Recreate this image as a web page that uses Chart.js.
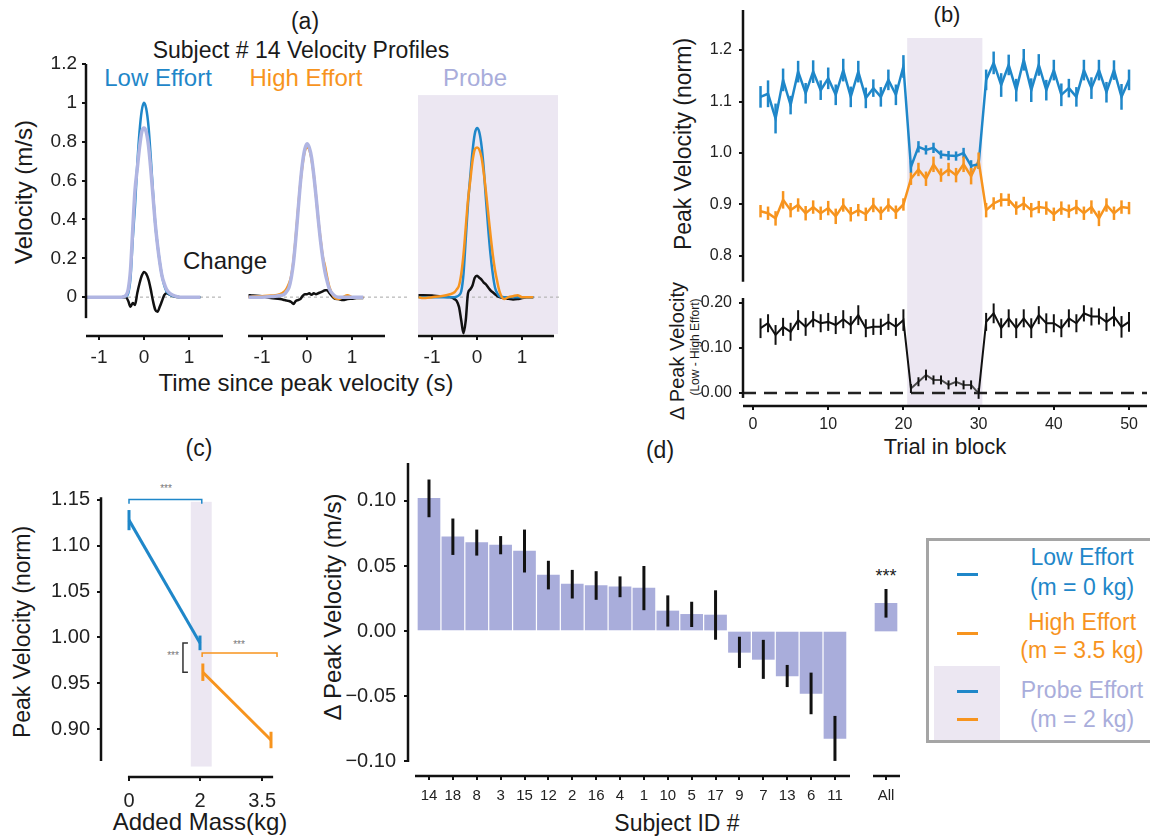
<!DOCTYPE html>
<html>
<head>
<meta charset="utf-8">
<title>Peak velocity figure</title>
<script src="https://cdn.jsdelivr.net/npm/chart.js"></script>
<style>
  body { margin: 0; background: #fff; }
  #fig { position: relative; width: 1150px; height: 838px; overflow: hidden; font-family: "Liberation Sans", Arial, sans-serif; color: #1a1a1a; }
  .t { position: absolute; white-space: nowrap; line-height: 1; transform: translate(-50%, -50%); }
  .r { transform: translate(-50%, -50%) rotate(-90deg); }
  canvas { position: absolute; }
  .box { position: absolute; box-sizing: border-box; }
</style>
</head>
<body>
<div id="fig">
  <!-- (a) -->
  <div class="t" style="left:305px;top:21px;font-size:23px">(a)</div>
  <div class="t" style="left:301px;top:50px;font-size:23px">Subject # 14 Velocity Profiles</div>
  <div class="t" style="left:158px;top:78px;font-size:24px;color:#1f87c9">Low Effort</div>
  <div class="t" style="left:306px;top:78px;font-size:24px;color:#f7941e">High Effort</div>
  <div class="t" style="left:475px;top:78px;font-size:24px;color:#a9addb">Probe</div>
  <div class="t" style="left:225px;top:261px;font-size:24px">Change</div>
  <div class="t r" style="left:24px;top:192px;font-size:24px">Velocity (m/s)</div>
  <div class="t" style="left:306px;top:383px;font-size:24px">Time since peak velocity (s)</div>

  <!-- (b) -->
  <div class="t" style="left:947px;top:15px;font-size:22px">(b)</div>
  <div class="t r" style="left:683px;top:144px;font-size:23px">Peak Velocity (norm)</div>
  <div class="t r" style="left:677px;top:351px;font-size:20px">Δ Peak Velocity</div>
  <div class="t r" style="left:695px;top:347px;font-size:12px">(Low - High Effort)</div>
  <div class="t" style="left:945px;top:447px;font-size:22px">Trial in block</div>

  <!-- (c) -->
  <div class="t" style="left:199px;top:448px;font-size:23px">(c)</div>
  <div class="t r" style="left:22px;top:632px;font-size:23px">Peak Velocity (norm)</div>
  <div class="t" style="left:200px;top:822px;font-size:24px">Added Mass(kg)</div>
  <div class="t" style="left:166px;top:489px;font-size:10px;color:#777">***</div>
  <div class="t" style="left:239px;top:645px;font-size:10px;color:#777">***</div>
  <div class="t" style="left:173px;top:656px;font-size:10px;color:#777">***</div>

  <!-- (d) -->
  <div class="t" style="left:660px;top:450px;font-size:23px">(d)</div>
  <div class="t r" style="left:333px;top:607px;font-size:24px">Δ Peak Velocity (m/s)</div>
  <div class="t" style="left:677px;top:823px;font-size:23px">Subject ID #</div>
  <div class="t" style="left:886px;top:576px;font-size:18px">***</div>

  <!-- legend -->
  <div class="box" style="left:926px;top:538px;width:240px;height:205px;border:3px solid #a5a5a5"></div>
  <div class="box" style="left:934px;top:666px;width:66px;height:74px;background:#ece7f2"></div>
  <div class="box" style="left:957px;top:573px;width:21px;height:3px;background:#1f87c9"></div>
  <div class="box" style="left:957px;top:632px;width:21px;height:3px;background:#f7941e"></div>
  <div class="box" style="left:957px;top:690px;width:21px;height:3px;background:#1f87c9"></div>
  <div class="box" style="left:957px;top:718px;width:21px;height:3px;background:#f7941e"></div>
  <div class="t" style="left:1082px;top:557px;font-size:23px;color:#1f87c9">Low Effort</div>
  <div class="t" style="left:1082px;top:587px;font-size:23px;color:#1f87c9">(m = 0 kg)</div>
  <div class="t" style="left:1082px;top:622px;font-size:23px;color:#f7941e">High Effort</div>
  <div class="t" style="left:1082px;top:650px;font-size:23px;color:#f7941e">(m = 3.5 kg)</div>
  <div class="t" style="left:1082px;top:690px;font-size:23px;color:#a9addb">Probe Effort</div>
  <div class="t" style="left:1082px;top:719px;font-size:23px;color:#a9addb">(m = 2 kg)</div>
</div>
<script>
const BLUE = "#1f87c9";
const ORANGE = "#f7941e";
const LAV = "#a9addb";
const LAV_LINE = "#b0b5e2";
const SHADE = "#ece7f2";
const INK = "#111";
const FONT = "'Liberation Sans', Arial, sans-serif";

// (a) velocity profiles of subject 14
const profileTime = [-1.3, -1.2, -1.0, -0.8, -0.6, -0.5, -0.45, -0.4, -0.35, -0.3, -0.25, -0.2, -0.15, -0.1, -0.05, 0,
  0.05, 0.1, 0.15, 0.2, 0.25, 0.3, 0.35, 0.4, 0.45, 0.5, 0.6, 0.7, 0.8, 0.9, 1.0, 1.1, 1.25];
const lowEffort = [0, 0, 0, 0, 0, 0, 0.002, 0.005, 0.02, 0.1, 0.3, 0.47, 0.68, 0.85, 0.96, 1.0,
  0.97, 0.88, 0.72, 0.54, 0.38, 0.27, 0.18, 0.11, 0.06, 0.03, 0.01, 0.003, 0, 0, 0, 0, 0];
const lowProbe = [0, 0, 0, 0, 0, 0, 0.003, 0.01, 0.04, 0.14, 0.35, 0.55, 0.66, 0.77, 0.85, 0.87,
  0.85, 0.78, 0.66, 0.52, 0.38, 0.27, 0.18, 0.11, 0.07, 0.04, 0.015, 0.005, 0, 0, 0, 0, 0];
const lowChange = [0, 0, 0, 0, 0, 0, 0, 0, -0.02, -0.05, -0.03, -0.04, 0.02, 0.07, 0.11, 0.13,
  0.12, 0.09, 0.04, -0.02, -0.065, -0.075, -0.05, -0.02, 0.01, 0.02, 0.01, 0.002, 0, -0.003, 0, 0, 0];
const highEffort = [0, 0.003, 0.005, 0.008, 0.015, 0.03, 0.045, 0.07, 0.11, 0.19, 0.31, 0.45, 0.58, 0.68, 0.75, 0.77,
  0.76, 0.71, 0.63, 0.52, 0.4, 0.3, 0.21, 0.16, 0.1, 0.05, 0.0, -0.01, 0.0, 0.01, 0, 0, 0];
const highProbe = [0, 0, 0, 0.003, 0.008, 0.015, 0.03, 0.05, 0.1, 0.18, 0.3, 0.44, 0.58, 0.69, 0.76, 0.79,
  0.77, 0.72, 0.63, 0.52, 0.4, 0.29, 0.2, 0.13, 0.08, 0.04, 0.01, 0, 0, 0, 0, 0, 0];
const highChange = [0.01, 0.008, 0.005, -0.005, -0.01, -0.015, -0.018, -0.02, -0.025, -0.035, -0.02, -0.015, -0.01, 0.005, 0.015, 0.015,
  0.02, 0.012, 0.02, 0.015, 0.02, 0.025, 0.03, 0.035, 0.035, 0.02, -0.005, -0.01, -0.015, -0.01, -0.008, -0.005, -0.005];
const probeLow = [0, 0, 0, 0, 0, 0, 0.003, 0.01, 0.03, 0.12, 0.3, 0.48, 0.62, 0.75, 0.84, 0.87,
  0.85, 0.78, 0.66, 0.5, 0.35, 0.22, 0.12, 0.05, 0.02, 0.005, 0, 0, 0, 0, 0, 0, 0];
const probeHigh = [0, -0.005, 0, 0.005, 0.015, 0.025, 0.04, 0.06, 0.12, 0.22, 0.36, 0.5, 0.6, 0.7, 0.76, 0.77,
  0.76, 0.72, 0.64, 0.54, 0.43, 0.32, 0.22, 0.14, 0.08, 0.03, -0.01, 0, 0.005, 0.01, 0, 0, 0];
const probeChange = [0.01, 0.01, 0.008, 0.003, 0, -0.01, -0.02, -0.05, -0.12, -0.186, -0.12, 0.02, 0.04, 0.06, 0.1, 0.11,
  0.1, 0.09, 0.075, 0.065, 0.05, 0.035, 0.025, 0.015, 0.005, 0, -0.005, -0.008, -0.012, -0.01, -0.005, 0, 0];
const velocityTicks = [0, 0.2, 0.4, 0.6, 0.8, 1, 1.2];
const timeTicks = [-1, 0, 1];

// (b) peak velocity per trial
const trials = Array.from({ length: 50 }, (_, i) => i + 1);
const lowTrial = [1.109, 1.115, 1.067, 1.142, 1.093, 1.158, 1.116, 1.158, 1.122, 1.145,
  1.113, 1.161, 1.109, 1.158, 1.107, 1.126, 1.109, 1.142, 1.113, 1.168,
  0.973, 1.012, 1.006, 1.010, 0.997, 0.995, 0.994, 1.000, 0.975, 0.978,
  1.142, 1.175, 1.132, 1.171, 1.122, 1.181, 1.122, 1.171, 1.122, 1.161,
  1.113, 1.126, 1.109, 1.161, 1.126, 1.161, 1.118, 1.161, 1.109, 1.142];
const lowTrialErr = [0.021, 0.026, 0.029, 0.022, 0.018, 0.021, 0.02, 0.022, 0.019, 0.021,
  0.02, 0.022, 0.02, 0.021, 0.02, 0.017, 0.019, 0.02, 0.02, 0.022,
  0.012, 0.011, 0.009, 0.01, 0.008, 0.009, 0.009, 0.01, 0.011, 0.009,
  0.02, 0.022, 0.023, 0.02, 0.022, 0.021, 0.023, 0.021, 0.02, 0.02,
  0.022, 0.018, 0.019, 0.02, 0.021, 0.02, 0.02, 0.019, 0.025, 0.02];
const highTrial = [0.887, 0.883, 0.873, 0.909, 0.889, 0.899, 0.883, 0.895, 0.883, 0.893,
  0.877, 0.899, 0.881, 0.889, 0.881, 0.899, 0.883, 0.899, 0.885, 0.900,
  0.950, 0.968, 0.950, 0.978, 0.957, 0.968, 0.957, 0.978, 0.955, 0.985,
  0.889, 0.902, 0.909, 0.909, 0.893, 0.902, 0.889, 0.895, 0.893, 0.881,
  0.893, 0.887, 0.895, 0.883, 0.895, 0.873, 0.899, 0.883, 0.895, 0.893];
const highTrialErr = [0.012, 0.013, 0.014, 0.017, 0.014, 0.013, 0.014, 0.013, 0.013, 0.014,
  0.015, 0.013, 0.014, 0.012, 0.013, 0.014, 0.013, 0.013, 0.013, 0.012,
  0.012, 0.013, 0.014, 0.015, 0.013, 0.013, 0.014, 0.015, 0.016, 0.016,
  0.014, 0.012, 0.013, 0.012, 0.013, 0.013, 0.014, 0.012, 0.013, 0.013,
  0.013, 0.013, 0.014, 0.013, 0.013, 0.015, 0.013, 0.013, 0.013, 0.012];
const diffTrial = [0.144, 0.155, 0.129, 0.147, 0.136, 0.162, 0.147, 0.164, 0.155, 0.158,
  0.151, 0.164, 0.151, 0.173, 0.144, 0.147, 0.147, 0.158, 0.147, 0.162,
  0.010, 0.025, 0.040, 0.029, 0.029, 0.018, 0.025, 0.018, 0.018, -0.001,
  0.158, 0.177, 0.144, 0.166, 0.144, 0.166, 0.144, 0.173, 0.155, 0.155,
  0.144, 0.166, 0.155, 0.177, 0.170, 0.170, 0.158, 0.170, 0.147, 0.158];
const diffTrialErr = [0.022, 0.02, 0.022, 0.02, 0.02, 0.022, 0.02, 0.018, 0.02, 0.02,
  0.02, 0.02, 0.02, 0.022, 0.02, 0.018, 0.018, 0.018, 0.02, 0.024,
  0.01, 0.01, 0.012, 0.01, 0.01, 0.01, 0.01, 0.01, 0.01, 0.012,
  0.02, 0.022, 0.022, 0.02, 0.022, 0.02, 0.022, 0.02, 0.022, 0.02,
  0.02, 0.02, 0.02, 0.018, 0.02, 0.018, 0.02, 0.022, 0.024, 0.022];
const trialTicks = [0, 10, 20, 30, 40, 50];
const peakTicks = [0.8, 0.9, 1.0, 1.1, 1.2];
const diffTicks = [0, 0.1, 0.2];

// (c) peak velocity vs added mass
const massLow = [0, 2];
const massLowPeak = [1.128, 0.994];
const massLowErr = [0.011, 0.008];
const massHigh = [2.08, 4];
const massHighPeak = [0.962, 0.888];
const massHighErr = [0.0095, 0.009];
const massTicks = [0, 2, 3.75];
const massTickLabels = ["0", "2", "3.5"];
const normTicks = [0.9, 0.95, 1.0, 1.05, 1.1, 1.15];

// (d) per-subject change in peak velocity
const subjectIds = ["14", "18", "8", "3", "15", "12", "2", "16", "4", "1", "10", "5", "17", "9", "7", "13", "6", "11"];
const subjectDelta = [0.102, 0.0725, 0.068, 0.066, 0.0615, 0.043, 0.036, 0.035, 0.034, 0.033,
  0.0154, 0.0128, 0.0123, -0.0164, -0.0218, -0.0346, -0.048, -0.0826];
const subjectErr = [0.0145, 0.014, 0.01, 0.007, 0.0165, 0.011, 0.011, 0.011, 0.008, 0.017,
  0.012, 0.0097, 0.019, 0.012, 0.015, 0.0085, 0.016, 0.0173];
const allLabel = ["All"];
const allDelta = [0.0213];
const allErr = [0.011];
const deltaTicks = [-0.1, -0.05, 0, 0.05, 0.1];

const fig = document.getElementById("fig");
const extras = {};

function xy(xs, ys) {
  return xs.map((x, i) => ({ x, y: ys[i] }));
}

const figPlugin = {
  id: "figExtras",
  beforeDatasetsDraw(chart) {
    const ex = extras[chart.canvas.id];
    if (!ex) return;
    const { ctx, chartArea: a } = chart;
    const x = chart.scales.x, y = chart.scales.y;
    ctx.save();
    (ex.shade || []).forEach((s) => {
      const x0 = s.x ? x.getPixelForValue(s.x[0]) : a.left;
      const x1 = s.x ? x.getPixelForValue(s.x[1]) : a.right;
      const y0 = s.y ? y.getPixelForValue(s.y[1]) : a.top;
      const y1 = s.y ? y.getPixelForValue(s.y[0]) : a.bottom;
      ctx.fillStyle = SHADE;
      ctx.fillRect(x0, y0, x1 - x0, y1 - y0);
    });
    if (ex.zero) {
      const py = y.getPixelForValue(0);
      ctx.strokeStyle = ex.zero.color;
      ctx.lineWidth = ex.zero.width;
      ctx.setLineDash(ex.zero.dash);
      ctx.beginPath();
      ctx.moveTo(a.left, py);
      ctx.lineTo(a.right, py);
      ctx.stroke();
    }
    ctx.restore();
  },
  afterDatasetsDraw(chart) {
    const { ctx } = chart;
    chart.data.datasets.forEach((ds, i) => {
      if (!ds.errors) return;
      const meta = chart.getDatasetMeta(i);
      const ys = chart.scales[meta.yAxisID];
      ctx.save();
      ctx.strokeStyle = ds.errorColor;
      ctx.lineWidth = ds.errorWidth;
      meta.data.forEach((el, j) => {
        const v = ds.data[j].y, e = ds.errors[j];
        ctx.beginPath();
        ctx.moveTo(el.x, ys.getPixelForValue(v + e));
        ctx.lineTo(el.x, ys.getPixelForValue(v - e));
        ctx.stroke();
      });
      ctx.restore();
    });
  },
  afterDraw(chart) {
    const ex = extras[chart.canvas.id];
    if (!ex) return;
    const { ctx, chartArea: a } = chart;
    const x = chart.scales.x, y = chart.scales.y;
    ctx.save();
    ctx.strokeStyle = INK;
    ctx.lineWidth = 2.5;
    if (ex.spineY) {
      ctx.beginPath();
      ctx.moveTo(a.left, y.getPixelForValue(ex.spineY[1]));
      ctx.lineTo(a.left, y.getPixelForValue(ex.spineY[0]));
      ctx.stroke();
    }
    if (ex.spineX) {
      ctx.beginPath();
      ctx.moveTo(x.getPixelForValue(ex.spineX[0]), a.bottom);
      ctx.lineTo(x.getPixelForValue(ex.spineX[1]), a.bottom);
      ctx.stroke();
    }
    ctx.lineWidth = 1.5;
    (ex.brackets || []).forEach((b) => {
      const x0 = x.getPixelForValue(b.x[0]), x1 = x.getPixelForValue(b.x[1]);
      const py = y.getPixelForValue(b.y), pd = y.getPixelForValue(b.y - b.drop);
      ctx.strokeStyle = b.color;
      ctx.beginPath();
      ctx.moveTo(x0, pd);
      ctx.lineTo(x0, py);
      ctx.lineTo(x1, py);
      ctx.lineTo(x1, pd);
      ctx.stroke();
    });
    if (ex.vbracket) {
      const b = ex.vbracket;
      const px = x.getPixelForValue(b.x[0]), pt = x.getPixelForValue(b.x[1]);
      ctx.strokeStyle = b.color;
      ctx.beginPath();
      ctx.moveTo(pt, y.getPixelForValue(b.y[1]));
      ctx.lineTo(px, y.getPixelForValue(b.y[1]));
      ctx.lineTo(px, y.getPixelForValue(b.y[0]));
      ctx.lineTo(pt, y.getPixelForValue(b.y[0]));
      ctx.stroke();
    }
    ctx.restore();
  },
};
Chart.register(figPlugin);
Chart.defaults.font.family = FONT;
Chart.defaults.color = "#222";

function axis(min, max, ticks, opts) {
  return {
    type: "linear",
    min,
    max,
    display: opts.display !== false,
    offset: false,
    afterBuildTicks: (s) => { s.ticks = ticks.map((v) => ({ value: v })); },
    ticks: {
      font: { size: opts.size || 18 },
      padding: opts.pad || 5,
      autoSkip: false,
      maxRotation: 0,
      callback: opts.fmt || ((v) => String(v)),
    },
    grid: { offset: false, drawOnChartArea: false, drawTicks: true, tickLength: 4, color: INK, lineWidth: 2 },
    border: { display: false },
  };
}

// area = [left, top, right, bottom] of the plot area, pad = [left, top, right, bottom]
function makeChart(id, area, pad, type, datasets, xScale, yScale, extra) {
  const cv = document.createElement("canvas");
  cv.id = id;
  const w = area[2] - area[0] + pad[0] + pad[2];
  const h = area[3] - area[1] + pad[1] + pad[3];
  cv.width = w;
  cv.height = h;
  cv.style.left = area[0] - pad[0] + "px";
  cv.style.top = area[1] - pad[1] + "px";
  cv.style.width = w + "px";
  cv.style.height = h + "px";
  fig.appendChild(cv);
  extras[id] = extra;
  // fixed axis sizes so the plot area lands exactly on `area`
  if (xScale.display) xScale.afterFit = (s) => { s.height = pad[3]; s.paddingLeft = 0; s.paddingRight = 0; };
  if (yScale.display) yScale.afterFit = (s) => { s.width = pad[0]; s.paddingTop = 0; s.paddingBottom = 0; };
  return new Chart(cv, {
    type,
    data: { datasets },
    options: {
      responsive: false,
      animation: false,
      devicePixelRatio: 1,
      layout: { padding: { left: yScale.display ? 0 : pad[0], top: pad[1], right: pad[2], bottom: xScale.display ? 0 : pad[3] } },
      plugins: { legend: { display: false }, tooltip: { enabled: false } },
      scales: { x: xScale, y: yScale },
    },
  });
}

function curve(ys, color, width) {
  return {
    data: xy(profileTime, ys),
    borderColor: color,
    borderWidth: width,
    pointRadius: 0,
    cubicInterpolationMode: "monotone",
    fill: false,
  };
}

// ---- (a) three subplots ----
const zeroLine = { color: "#b5b5b5", width: 1.2, dash: [3, 3] };
makeChart("a1", [86, 64, 223, 336], [50, 14, 4, 34], "line",
  [curve(lowProbe, LAV_LINE, 3.5), curve(lowEffort, BLUE, 2.5), curve(lowChange, INK, 2.5)],
  axis(-1.289, 1.756, timeTicks, { size: 19, pad: 6 }),
  axis(-0.2, 1.2, velocityTicks, { size: 19, pad: 5 }),
  { zero: zeroLine, spineY: [-0.108, 1.2], spineX: [-1.289, 1.756] });

makeChart("a2", [248, 64, 408, 336], [0, 14, 4, 34], "line",
  [curve(highProbe, LAV_LINE, 3.5), curve(highEffort, ORANGE, 2.5), curve(highChange, INK, 2.5)],
  axis(-1.311, 2.244, timeTicks, { size: 19, pad: 6 }),
  axis(-0.2, 1.2, velocityTicks, { display: false }),
  { zero: zeroLine, spineX: [-1.311, 1.733] });

makeChart("a3", [418, 64, 560, 336], [0, 14, 4, 34], "line",
  [curve(probeHigh, ORANGE, 2.5), curve(probeLow, BLUE, 2.5), curve(probeChange, INK, 2.5)],
  axis(-1.311, 1.844, timeTicks, { size: 19, pad: 6 }),
  axis(-0.2, 1.2, velocityTicks, { display: false }),
  { shade: [{ x: [-1.311, 1.8], y: [-0.19, 1.04] }], zero: zeroLine, spineX: [-1.311, 1.711] });

// ---- (b) trial series ----
function trialLine(ys, errs, color, width) {
  return {
    data: xy(trials, ys),
    borderColor: color,
    borderWidth: width,
    pointRadius: 0,
    tension: 0,
    fill: false,
    errors: errs,
    errorColor: color,
    errorWidth: width,
  };
}
const probeTrials = [21, 30];

makeChart("bTop", [743, 10, 1147, 298], [50, 10, 3, 0], "line",
  [trialLine(lowTrial, lowTrialErr, BLUE, 2.5), trialLine(highTrial, highTrialErr, ORANGE, 2.5)],
  axis(-1.33, 52.39, trialTicks, { display: false }),
  axis(0.7184, 1.2777, peakTicks, { size: 16, pad: 7, fmt: (v) => v.toFixed(1) }),
  { shade: [{ x: [probeTrials[0] - 0.5, probeTrials[1] + 0.5], y: [0.7184, 1.2233] }], spineY: [0.75, 1.2777] });

const diffLine = trialLine(diffTrial, diffTrialErr, INK, 2);
diffLine.segment = {
  borderColor: (c) => (trials[c.p0DataIndex] >= probeTrials[0] && trials[c.p1DataIndex] <= probeTrials[1] ? "#4a4a4a" : INK),
};
makeChart("bBot", [743, 298, 1147, 406], [50, 10, 3, 30], "line",
  [diffLine],
  axis(-1.33, 52.39, trialTicks, { size: 16, pad: 5 }),
  axis(-0.0289, 0.2111, diffTicks, { size: 16, pad: 7, fmt: (v) => v.toFixed(2) }),
  {
    shade: [{ x: [probeTrials[0] - 0.5, probeTrials[1] + 0.5] }],
    zero: { color: "#222", width: 2.5, dash: [13, 8] },
    spineY: [-0.011, 0.2111],
    spineX: [-1.33, 52.39],
  });

// ---- (c) added mass ----
function massLine(xs, ys, errs, color) {
  return {
    data: xy(xs, ys),
    borderColor: color,
    borderWidth: 3,
    pointRadius: 0,
    tension: 0,
    fill: false,
    errors: errs,
    errorColor: color,
    errorWidth: 3,
  };
}
makeChart("c", [101, 480, 282, 777], [55, 10, 6, 36], "line",
  [massLine(massLow, massLowPeak, massLowErr, BLUE), massLine(massHigh, massHighPeak, massHighErr, ORANGE)],
  axis(-0.789, 4.31, massTicks, { size: 20, pad: 8, fmt: (v, i) => massTickLabels[i] }),
  axis(0.8476, 1.1718, normTicks, { size: 20, pad: 7, fmt: (v) => v.toFixed(2) }),
  {
    shade: [{ x: [1.74, 2.33], y: [0.859, 1.148] }],
    spineY: [0.865, 1.153],
    spineX: [-0.03, 4.06],
    brackets: [
      { x: [0, 2.05], y: 1.1505, drop: 0.0045, color: BLUE },
      { x: [2.06, 4.17], y: 0.983, drop: 0.0045, color: ORANGE },
    ],
    vbracket: { x: [1.52, 1.66], y: [0.962, 0.994], color: "#333" },
  });

// ---- (d) per subject ----
const minus = (v) => v.toFixed(2).replace("-", "\u2212");
const subjectIndex = subjectIds.map((_, i) => i);
makeChart("d", [408, 463, 850, 776], [62, 12, 6, 32], "bar",
  [{
    data: xy(subjectIndex, subjectDelta),
    backgroundColor: LAV,
    barThickness: 22,
    errors: subjectErr,
    errorColor: INK,
    errorWidth: 3,
  }],
  axis(-0.879, 17.63, subjectIndex, { size: 15, pad: 7, fmt: (v, i) => subjectIds[i] }),
  axis(-0.1115, 0.1292, deltaTicks, { size: 20, pad: 8, fmt: minus }),
  { spineY: [-0.1008, 0.1292], spineX: [-0.586, 17.63] });

makeChart("dAll", [873, 463, 900, 776], [0, 12, 6, 32], "bar",
  [{
    data: xy([0], allDelta),
    backgroundColor: LAV,
    barThickness: 22,
    errors: allErr,
    errorColor: INK,
    errorWidth: 3,
  }],
  axis(-0.544, 0.586, [0], { size: 15, pad: 7, fmt: (v, i) => allLabel[i] }),
  axis(-0.1115, 0.1292, deltaTicks, { display: false }),
  { spineX: [-0.544, 0.586] });
</script>
</body>
</html>
